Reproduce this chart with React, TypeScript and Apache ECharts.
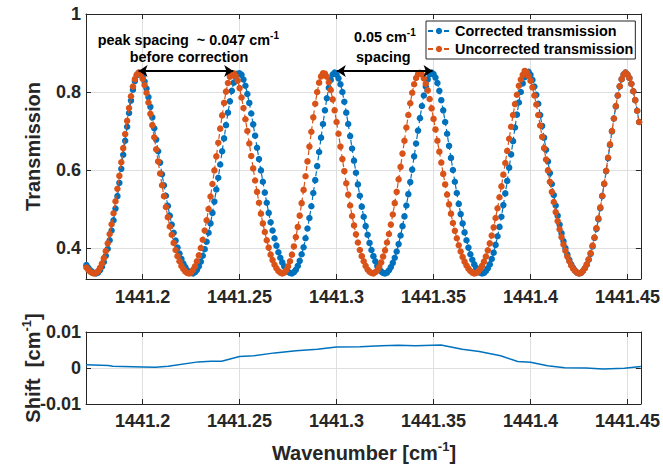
import React, { useEffect, useRef } from 'react';
import * as echarts from 'echarts';

const FONT = '"Liberation Sans", Arial, Helvetica, sans-serif';
const BLUE = '#0072BD';
const ORANGE = '#D95319';
const AXIS = '#262626';
const GRID = '#dfdfdf';

const X_MIN = 1441.1708;
const X_MAX = 1441.4569;
const T_MIN = 0.3205;
const T_MAX = 1;
const S_MIN = -0.01;
const S_MAX = 0.01;

const SERIES_NAMES = ['Corrected transmission', 'Uncorrected transmission'];

// wavenumber samples [cm-1]
const WAVENUMBER = [
  1441.171, 1441.172, 1441.173, 1441.174, 1441.175, 1441.176, 1441.177, 1441.178, 1441.179, 1441.180,
  1441.181, 1441.182, 1441.183, 1441.184, 1441.185, 1441.186, 1441.187, 1441.188, 1441.189, 1441.190,
  1441.191, 1441.192, 1441.193, 1441.194, 1441.195, 1441.196, 1441.197, 1441.198, 1441.199, 1441.200,
  1441.201, 1441.202, 1441.203, 1441.204, 1441.205, 1441.206, 1441.207, 1441.208, 1441.209, 1441.210,
  1441.211, 1441.212, 1441.213, 1441.214, 1441.215, 1441.216, 1441.217, 1441.218, 1441.219, 1441.220,
  1441.221, 1441.222, 1441.223, 1441.224, 1441.225, 1441.226, 1441.227, 1441.228, 1441.229, 1441.230,
  1441.231, 1441.232, 1441.233, 1441.234, 1441.235, 1441.236, 1441.237, 1441.238, 1441.239, 1441.240,
  1441.241, 1441.242, 1441.243, 1441.244, 1441.245, 1441.246, 1441.247, 1441.248, 1441.249, 1441.250,
  1441.251, 1441.252, 1441.253, 1441.254, 1441.255, 1441.256, 1441.257, 1441.258, 1441.259, 1441.260,
  1441.261, 1441.262, 1441.263, 1441.264, 1441.265, 1441.266, 1441.267, 1441.268, 1441.269, 1441.270,
  1441.271, 1441.272, 1441.273, 1441.274, 1441.275, 1441.276, 1441.277, 1441.278, 1441.279, 1441.280,
  1441.281, 1441.282, 1441.283, 1441.284, 1441.285, 1441.286, 1441.287, 1441.288, 1441.289, 1441.290,
  1441.291, 1441.292, 1441.293, 1441.294, 1441.295, 1441.296, 1441.297, 1441.298, 1441.299, 1441.300,
  1441.301, 1441.302, 1441.303, 1441.304, 1441.305, 1441.306, 1441.307, 1441.308, 1441.309, 1441.310,
  1441.311, 1441.312, 1441.313, 1441.314, 1441.315, 1441.316, 1441.317, 1441.318, 1441.319, 1441.320,
  1441.321, 1441.322, 1441.323, 1441.324, 1441.325, 1441.326, 1441.327, 1441.328, 1441.329, 1441.330,
  1441.331, 1441.332, 1441.333, 1441.334, 1441.335, 1441.336, 1441.337, 1441.338, 1441.339, 1441.340,
  1441.341, 1441.342, 1441.343, 1441.344, 1441.345, 1441.346, 1441.347, 1441.348, 1441.349, 1441.350,
  1441.351, 1441.352, 1441.353, 1441.354, 1441.355, 1441.356, 1441.357, 1441.358, 1441.359, 1441.360,
  1441.361, 1441.362, 1441.363, 1441.364, 1441.365, 1441.366, 1441.367, 1441.368, 1441.369, 1441.370,
  1441.371, 1441.372, 1441.373, 1441.374, 1441.375, 1441.376, 1441.377, 1441.378, 1441.379, 1441.380,
  1441.381, 1441.382, 1441.383, 1441.384, 1441.385, 1441.386, 1441.387, 1441.388, 1441.389, 1441.390,
  1441.391, 1441.392, 1441.393, 1441.394, 1441.395, 1441.396, 1441.397, 1441.398, 1441.399, 1441.400,
  1441.401, 1441.402, 1441.403, 1441.404, 1441.405, 1441.406, 1441.407, 1441.408, 1441.409, 1441.410,
  1441.411, 1441.412, 1441.413, 1441.414, 1441.415, 1441.416, 1441.417, 1441.418, 1441.419, 1441.420,
  1441.421, 1441.422, 1441.423, 1441.424, 1441.425, 1441.426, 1441.427, 1441.428, 1441.429, 1441.430,
  1441.431, 1441.432, 1441.433, 1441.434, 1441.435, 1441.436, 1441.437, 1441.438, 1441.439, 1441.440,
  1441.441, 1441.442, 1441.443, 1441.444, 1441.445, 1441.446, 1441.447, 1441.448, 1441.449, 1441.450,
  1441.451, 1441.452, 1441.453, 1441.454, 1441.455, 1441.456,
];

const CORRECTED = [
  0.356, 0.349, 0.343, 0.339, 0.336, 0.335, 0.337, 0.343, 0.352, 0.364,
  0.380, 0.398, 0.420, 0.445, 0.471, 0.501, 0.533, 0.567, 0.603, 0.639,
  0.675, 0.711, 0.746, 0.778, 0.806, 0.828, 0.843, 0.849, 0.847, 0.839,
  0.827, 0.809, 0.787, 0.762, 0.735, 0.707, 0.678, 0.648, 0.619, 0.589,
  0.561, 0.534, 0.508, 0.483, 0.460, 0.439, 0.419, 0.401, 0.386, 0.372,
  0.360, 0.351, 0.343, 0.338, 0.336, 0.335, 0.338, 0.344, 0.353, 0.365,
  0.380, 0.397, 0.416, 0.439, 0.463, 0.490, 0.519, 0.550, 0.580, 0.614,
  0.648, 0.681, 0.715, 0.747, 0.776, 0.803, 0.824, 0.839, 0.847, 0.848,
  0.844, 0.832, 0.816, 0.795, 0.772, 0.745, 0.717, 0.688, 0.657, 0.628,
  0.599, 0.570, 0.542, 0.516, 0.490, 0.466, 0.445, 0.425, 0.406, 0.389,
  0.375, 0.363, 0.353, 0.345, 0.339, 0.336, 0.335, 0.338, 0.344, 0.354,
  0.367, 0.384, 0.402, 0.425, 0.450, 0.477, 0.507, 0.541, 0.574, 0.610,
  0.646, 0.683, 0.718, 0.753, 0.784, 0.811, 0.831, 0.845, 0.850, 0.845,
  0.835, 0.820, 0.800, 0.775, 0.747, 0.718, 0.687, 0.655, 0.624, 0.593,
  0.563, 0.534, 0.506, 0.480, 0.456, 0.434, 0.413, 0.395, 0.379, 0.366,
  0.354, 0.346, 0.340, 0.336, 0.335, 0.337, 0.343, 0.351, 0.362, 0.375,
  0.391, 0.410, 0.432, 0.456, 0.481, 0.509, 0.538, 0.569, 0.601, 0.635,
  0.668, 0.701, 0.733, 0.764, 0.791, 0.814, 0.832, 0.845, 0.850, 0.846,
  0.837, 0.823, 0.803, 0.779, 0.753, 0.723, 0.693, 0.662, 0.631, 0.600,
  0.570, 0.541, 0.513, 0.487, 0.463, 0.440, 0.420, 0.401, 0.384, 0.370,
  0.358, 0.349, 0.342, 0.337, 0.335, 0.336, 0.341, 0.348, 0.358, 0.372,
  0.388, 0.408, 0.430, 0.454, 0.480, 0.510, 0.540, 0.572, 0.606, 0.640,
  0.674, 0.709, 0.742, 0.773, 0.800, 0.822, 0.838, 0.850, 0.852, 0.844,
  0.831, 0.814, 0.793, 0.770, 0.741, 0.713, 0.683, 0.652, 0.622, 0.592,
  0.564, 0.536, 0.509, 0.483, 0.460, 0.438, 0.418, 0.400, 0.384, 0.370,
  0.358, 0.349, 0.342, 0.337, 0.335, 0.336, 0.341, 0.348, 0.357, 0.370,
  0.385, 0.404, 0.426, 0.449, 0.474, 0.502, 0.533, 0.564, 0.597, 0.630,
  0.664, 0.699, 0.732, 0.763, 0.791, 0.814, 0.833, 0.845, 0.850, 0.845,
  0.836, 0.821, 0.802, 0.779, 0.752, 0.723,
];

const UNCORRECTED = [
  0.350, 0.344, 0.339, 0.336, 0.335, 0.336, 0.341, 0.349, 0.360, 0.374,
  0.392, 0.412, 0.436, 0.461, 0.489, 0.520, 0.552, 0.585, 0.620, 0.656,
  0.692, 0.726, 0.759, 0.789, 0.814, 0.833, 0.845, 0.850, 0.845, 0.834,
  0.818, 0.798, 0.773, 0.744, 0.715, 0.684, 0.653, 0.622, 0.591, 0.561,
  0.533, 0.505, 0.479, 0.455, 0.434, 0.413, 0.395, 0.379, 0.366, 0.354,
  0.346, 0.340, 0.336, 0.335, 0.337, 0.344, 0.353, 0.366, 0.381, 0.400,
  0.421, 0.445, 0.471, 0.500, 0.532, 0.564, 0.599, 0.635, 0.670, 0.706,
  0.740, 0.772, 0.801, 0.823, 0.839, 0.847, 0.848, 0.841, 0.829, 0.810,
  0.786, 0.759, 0.730, 0.700, 0.668, 0.636, 0.604, 0.573, 0.544, 0.516,
  0.488, 0.463, 0.441, 0.420, 0.401, 0.383, 0.369, 0.357, 0.348, 0.341,
  0.337, 0.335, 0.337, 0.343, 0.353, 0.366, 0.383, 0.404, 0.428, 0.454,
  0.483, 0.515, 0.549, 0.584, 0.622, 0.660, 0.698, 0.735, 0.770, 0.800,
  0.824, 0.840, 0.848, 0.847, 0.839, 0.825, 0.805, 0.781, 0.753, 0.723,
  0.693, 0.660, 0.628, 0.597, 0.566, 0.537, 0.509, 0.482, 0.458, 0.435,
  0.414, 0.395, 0.379, 0.366, 0.354, 0.345, 0.339, 0.336, 0.335, 0.338,
  0.343, 0.352, 0.363, 0.378, 0.394, 0.414, 0.436, 0.460, 0.486, 0.515,
  0.544, 0.576, 0.608, 0.642, 0.675, 0.709, 0.741, 0.771, 0.798, 0.820,
  0.836, 0.846, 0.849, 0.845, 0.835, 0.821, 0.804, 0.782, 0.758, 0.731,
  0.704, 0.675, 0.647, 0.619, 0.590, 0.563, 0.537, 0.512, 0.488, 0.464,
  0.444, 0.425, 0.407, 0.391, 0.377, 0.365, 0.355, 0.347, 0.341, 0.337,
  0.335, 0.336, 0.340, 0.346, 0.354, 0.365, 0.378, 0.394, 0.412, 0.432,
  0.453, 0.477, 0.502, 0.530, 0.558, 0.588, 0.618, 0.649, 0.680, 0.711,
  0.741, 0.769, 0.793, 0.816, 0.832, 0.844, 0.854, 0.851, 0.841, 0.829,
  0.812, 0.791, 0.768, 0.741, 0.714, 0.685, 0.656, 0.627, 0.599, 0.570,
  0.544, 0.518, 0.492, 0.469, 0.448, 0.428, 0.409, 0.393, 0.378, 0.366,
  0.355, 0.347, 0.341, 0.337, 0.335, 0.336, 0.341, 0.348, 0.358, 0.371,
  0.387, 0.406, 0.427, 0.451, 0.476, 0.504, 0.534, 0.565, 0.598, 0.632,
  0.666, 0.700, 0.732, 0.764, 0.791, 0.815, 0.833, 0.845, 0.850, 0.845,
  0.836, 0.821, 0.802, 0.779, 0.752, 0.723,
];

// wavenumber shift panel
const SHIFT_X = [
  1441.1708, 1441.1824, 1441.1846, 1441.2000, 1441.2066, 1441.2132, 1441.2286, 1441.2352,
  1441.2407, 1441.2500, 1441.2571, 1441.2681, 1441.2791, 1441.2901, 1441.3000, 1441.3121,
  1441.3231, 1441.3319, 1441.3407, 1441.3538, 1441.3648, 1441.3736, 1441.3846, 1441.3934,
  1441.4000, 1441.4088, 1441.4176, 1441.4286, 1441.4374, 1441.4484, 1441.4569,
];
const SHIFT_Y = [
  0.0009, 0.0007, 0.0005, 0.0003, 0.0002, 0.0005, 0.0017, 0.0019,
  0.0019, 0.0032, 0.0034, 0.0042, 0.0048, 0.0052, 0.0058, 0.0059,
  0.0062, 0.0063, 0.0062, 0.0064, 0.0052, 0.0046, 0.0034, 0.0018,
  0.0016, 0.0006, 0.0001, 0.0000, -0.0003, -0.0001, 0.0004,
];

// annotation arrows (wavenumber start/end, transmission level)
const ARROW_SPANS = [
  [1441.1979, 1441.2467],
  [1441.3001, 1441.3495],
];
const ARROW_LEVEL = 0.854;

const ANNOTATIONS = {
  before: 'peak spacing  ~ 0.047 cm',
  beforeLine2: 'before correction',
  after: '0.05 cm',
  afterLine2: 'spacing',
  sup: '-1',
};

const labelFont = { fontFamily: FONT, fontWeight: 'bold' as const, color: AXIS };

function xFormatter(v: number) {
  const k = v * 20;
  return Math.abs(k - Math.round(k)) < 1e-4 ? String(Number(v.toFixed(2))) : '';
}
function yFormatter(v: number) {
  const k = v * 5;
  return Math.abs(k - Math.round(k)) < 1e-4 ? String(Number(v.toFixed(1))) : '';
}

function mainXAxis(gridIndex: number, margin: number) {
  return {
    type: 'value', gridIndex, min: X_MIN, max: X_MAX, minInterval: 0.05, maxInterval: 0.05,
    axisLine: { show: true, onZero: false, lineStyle: { color: AXIS, width: 1 } },
    axisTick: { show: true, inside: true, length: 5, lineStyle: { color: AXIS } },
    axisLabel: { ...labelFont, fontSize: 18, margin, formatter: xFormatter },
    splitLine: { show: true, lineStyle: { color: GRID, width: 1 } },
  };
}
function mirrorXAxis(gridIndex: number) {
  return {
    type: 'value', gridIndex, position: 'top', min: X_MIN, max: X_MAX, minInterval: 0.05, maxInterval: 0.05,
    axisLine: { show: true, onZero: false, lineStyle: { color: AXIS, width: 1 } },
    axisTick: { show: true, inside: true, length: 5, lineStyle: { color: AXIS } },
    axisLabel: { show: false },
    splitLine: { show: false },
  };
}

export default function App() {
  const ref = useRef<HTMLDivElement>(null);
  useEffect(() => {
    document.body.style.margin = '0';
    const chart = echarts.init(ref.current!, null, { renderer: 'svg' });
    const corrected = WAVENUMBER.map((x, i) => [x, CORRECTED[i]]);
    const uncorrected = WAVENUMBER.map((x, i) => [x, UNCORRECTED[i]]);
    const shift = SHIFT_X.map((x, i) => [x, SHIFT_Y[i]]);

    const rich = {
      n: { fontFamily: FONT, fontWeight: 'bold', fontSize: 14.4, fill: '#000', lineHeight: 20 },
      s: { fontFamily: FONT, fontWeight: 'bold', fontSize: 10, fill: '#000', verticalAlign: 'top', lineHeight: 10 },
    };
    const richBig = {
      n: { fontFamily: FONT, fontWeight: 'bold', fontSize: 20, fill: AXIS, lineHeight: 26 },
      s: { fontFamily: FONT, fontWeight: 'bold', fontSize: 13, fill: AXIS, verticalAlign: 'top', lineHeight: 13 },
    };

    const option: any = {
      animation: false,
      backgroundColor: '#fff',
      grid: [
        { left: 86, top: 14, width: 555, height: 265 },
        { left: 86, top: 332, width: 555, height: 72 },
      ],
      xAxis: [mainXAxis(0, 9), mainXAxis(1, 8), mirrorXAxis(0), mirrorXAxis(1)],
      yAxis: [
        {
          type: 'value', gridIndex: 0, min: T_MIN, max: T_MAX, minInterval: 0.2, maxInterval: 0.2,
          axisLine: { show: true, onZero: false, lineStyle: { color: AXIS, width: 1 } },
          axisTick: { show: true, inside: true, length: 5, lineStyle: { color: AXIS } },
          axisLabel: { ...labelFont, fontSize: 18, margin: 5, formatter: yFormatter },
          splitLine: { show: true, lineStyle: { color: GRID, width: 1 } },
        },
        {
          type: 'value', gridIndex: 1, min: S_MIN, max: S_MAX, interval: 0.01,
          axisLine: { show: true, onZero: false, lineStyle: { color: AXIS, width: 1 } },
          axisTick: { show: true, inside: true, length: 5, lineStyle: { color: AXIS } },
          axisLabel: { ...labelFont, fontSize: 18, margin: 5 },
          splitLine: { show: true, lineStyle: { color: GRID, width: 1 } },
        },
        {
          type: 'value', gridIndex: 0, position: 'right', min: T_MIN, max: T_MAX, minInterval: 0.2, maxInterval: 0.2,
          axisLine: { show: true, onZero: false, lineStyle: { color: AXIS, width: 1 } },
          axisTick: { show: true, inside: true, length: 5, lineStyle: { color: AXIS } },
          axisLabel: { show: false }, splitLine: { show: false },
        },
        {
          type: 'value', gridIndex: 1, position: 'right', min: S_MIN, max: S_MAX, interval: 0.01,
          axisLine: { show: true, onZero: false, lineStyle: { color: AXIS, width: 1 } },
          axisTick: { show: true, inside: true, length: 5, lineStyle: { color: AXIS } },
          axisLabel: { show: false }, splitLine: { show: false },
        },
      ],
      legend: {
        data: SERIES_NAMES,
        orient: 'vertical',
        left: 426,
        top: 21,
        padding: [3, 2, 3, 1],
        itemGap: 4,
        itemWidth: 22,
        itemHeight: 8,
        backgroundColor: '#fff',
        borderColor: AXIS,
        borderWidth: 1,
        borderRadius: 0,
        selectedMode: false,
        textStyle: { fontFamily: FONT, fontWeight: 'bold', fontSize: 14.4, color: '#000' },
      },
      series: [
        {
          name: SERIES_NAMES[0], type: 'line', xAxisIndex: 0, yAxisIndex: 0, data: corrected,
          symbol: 'circle', symbolSize: 6.5, showSymbol: true, z: 2,
          itemStyle: { color: BLUE, borderWidth: 0 },
          lineStyle: { color: BLUE, width: 1.2, type: [5, 3] },
          emphasis: { disabled: true }, silent: true,
        },
        {
          name: SERIES_NAMES[1], type: 'line', xAxisIndex: 0, yAxisIndex: 0, data: uncorrected,
          symbol: 'circle', symbolSize: 6.5, showSymbol: true, z: 3,
          itemStyle: { color: ORANGE, borderWidth: 0 },
          lineStyle: { color: ORANGE, width: 1.2, type: [5, 3] },
          emphasis: { disabled: true }, silent: true,
          markLine: {
            silent: true,
            symbol: ['arrow', 'arrow'],
            symbolSize: 9,
            label: { show: false },
            lineStyle: { color: '#000', width: 1.8, type: 'solid' },
            emphasis: { disabled: true },
            data: ARROW_SPANS.map(([a, b]) => [
              { coord: [a, ARROW_LEVEL] },
              { coord: [b, ARROW_LEVEL] },
            ]),
          },
        },
        {
          name: 'Shift', type: 'line', xAxisIndex: 1, yAxisIndex: 1, data: shift,
          symbol: 'none', lineStyle: { color: BLUE, width: 1.5 },
          emphasis: { disabled: true }, silent: true,
        },
      ],
      graphic: [
        {
          type: 'text', x: 33, y: 146.5, rotation: Math.PI / 2, z: 100,
          style: { text: 'Transmission', fontFamily: FONT, fontWeight: 'bold', fontSize: 20, fill: AXIS, align: 'center', verticalAlign: 'middle' },
        },
        {
          type: 'text', x: 33, y: 368, rotation: Math.PI / 2, z: 100,
          style: { text: '{n|Shift  [cm}{s|-1}{n|]}', rich: richBig, align: 'center', verticalAlign: 'middle' },
        },
        {
          type: 'text', x: 364, y: 453, z: 100,
          style: { text: '{n|Wavenumber [cm}{s|-1}{n|]}', rich: richBig, align: 'center', verticalAlign: 'middle' },
        },
        {
          type: 'text', x: 97.7, y: 40, z: 100,
          style: { text: `{n|${ANNOTATIONS.before}}{s|${ANNOTATIONS.sup}}`, rich, align: 'left', verticalAlign: 'middle' },
        },
        {
          type: 'text', x: 189, y: 56.7, z: 100,
          style: { text: ANNOTATIONS.beforeLine2, fontFamily: FONT, fontWeight: 'bold', fontSize: 14.4, fill: '#000', align: 'center', verticalAlign: 'middle' },
        },
        {
          type: 'text', x: 354, y: 37.3, z: 100,
          style: { text: `{n|${ANNOTATIONS.after}}{s|${ANNOTATIONS.sup}}`, rich, align: 'left', verticalAlign: 'middle' },
        },
        {
          type: 'text', x: 383.3, y: 56.7, z: 100,
          style: { text: ANNOTATIONS.afterLine2, fontFamily: FONT, fontWeight: 'bold', fontSize: 14.4, fill: '#000', align: 'center', verticalAlign: 'middle' },
        },
      ],
    };
    chart.setOption(option);
    return () => chart.dispose();
  }, []);
  return <div ref={ref} style={{ width: 663, height: 466 }} />;
}
